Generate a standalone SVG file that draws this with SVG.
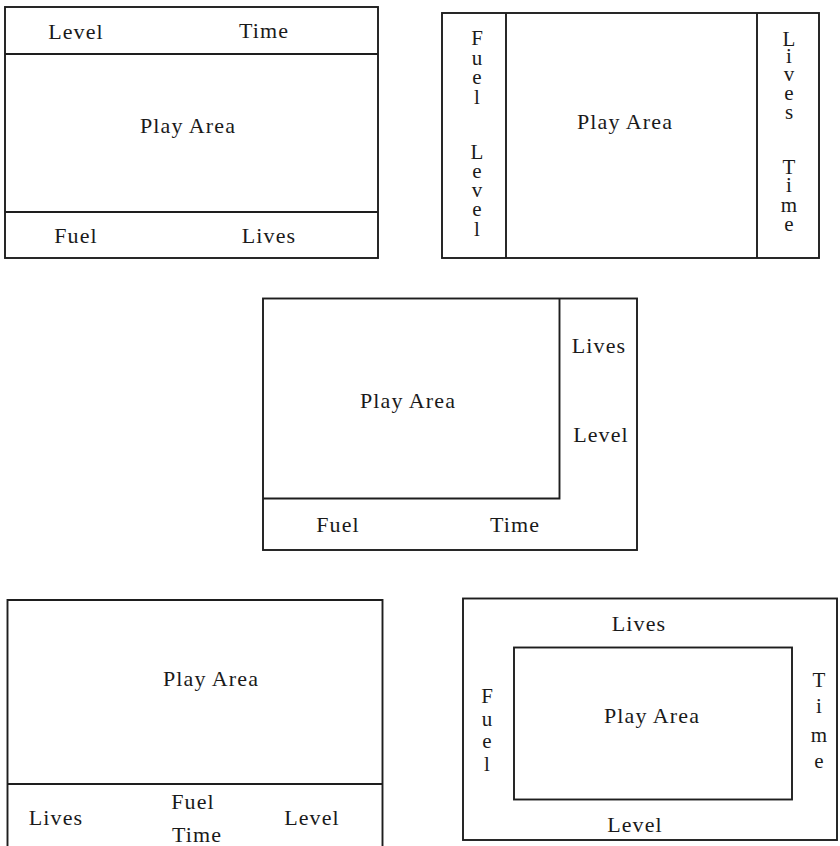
<svg xmlns="http://www.w3.org/2000/svg" width="840" height="846" viewBox="0 0 840 846">
<style>
.bg{fill:#ffffff}
.box{fill:none;stroke:#1e1e1e;stroke-width:1.9}
.t{font-family:"Liberation Serif","Times New Roman",serif;font-size:22px;letter-spacing:1.1px;fill:#1a1a1a;text-anchor:middle}
.v{font-family:"Liberation Serif","Times New Roman",serif;font-size:21px;fill:#1a1a1a;text-anchor:middle}
</style>
<rect class="bg" x="0" y="0" width="840" height="846"/>
<g id="layout1">
  <rect class="box" x="5" y="7" width="373" height="251"/>
  <line class="box" x1="5" y1="54" x2="378" y2="54"/>
  <line class="box" x1="5" y1="212" x2="378" y2="212"/>
  <text class="t" x="76" y="39">Level</text>
  <text class="t" x="264" y="38">Time</text>
  <text class="t" x="188" y="133">Play Area</text>
  <text class="t" x="76" y="243">Fuel</text>
  <text class="t" x="269" y="243">Lives</text>
</g>
<g id="layout2">
  <rect class="box" x="442" y="13" width="377" height="245"/>
  <line class="box" x1="506" y1="13" x2="506" y2="258"/>
  <line class="box" x1="757" y1="13" x2="757" y2="258"/>
  <text class="v"><tspan x="477" y="45">F</tspan><tspan x="477" y="64.5">u</tspan><tspan x="477" y="84">e</tspan><tspan x="477" y="104">l</tspan><tspan x="477" y="159">L</tspan><tspan x="477" y="178">e</tspan><tspan x="477" y="197">v</tspan><tspan x="477" y="216">e</tspan><tspan x="477" y="236">l</tspan></text>
  <text class="t" x="625" y="129">Play Area</text>
  <text class="v"><tspan x="789" y="46">L</tspan><tspan x="789" y="63">i</tspan><tspan x="789" y="81">v</tspan><tspan x="789" y="100">e</tspan><tspan x="789" y="119">s</tspan><tspan x="789" y="174">T</tspan><tspan x="789" y="192">i</tspan><tspan x="789" y="212">m</tspan><tspan x="789" y="231">e</tspan></text>
</g>
<g id="layout3">
  <rect class="box" x="263" y="298.5" width="374" height="251.5"/>
  <path class="box" d="M559.5,298.5 V498.5 H263"/>
  <text class="t" x="408" y="408">Play Area</text>
  <text class="t" x="599" y="353">Lives</text>
  <text class="t" x="601" y="442">Level</text>
  <text class="t" x="338" y="532">Fuel</text>
  <text class="t" x="515" y="532">Time</text>
</g>
<g id="layout4">
  <path class="box" d="M7.5,850 V600 H382.5 V850"/>
  <line class="box" x1="7.5" y1="784" x2="382.5" y2="784"/>
  <text class="t" x="211" y="686">Play Area</text>
  <text class="t" x="56" y="825">Lives</text>
  <text class="t" x="193" y="809">Fuel</text>
  <text class="t" x="197" y="842">Time</text>
  <text class="t" x="312" y="825">Level</text>
</g>
<g id="layout5">
  <rect class="box" x="463" y="598.5" width="374" height="241.5"/>
  <rect class="box" x="514" y="647.5" width="278" height="152"/>
  <text class="t" x="639" y="631">Lives</text>
  <text class="t" x="652" y="723">Play Area</text>
  <text class="t" x="635" y="832">Level</text>
  <text class="v"><tspan x="487" y="703">F</tspan><tspan x="487" y="726">u</tspan><tspan x="487" y="748">e</tspan><tspan x="487" y="771">l</tspan></text>
  <text class="v"><tspan x="819" y="687">T</tspan><tspan x="819" y="713">i</tspan><tspan x="819" y="742">m</tspan><tspan x="819" y="768">e</tspan></text>
</g>
</svg>
